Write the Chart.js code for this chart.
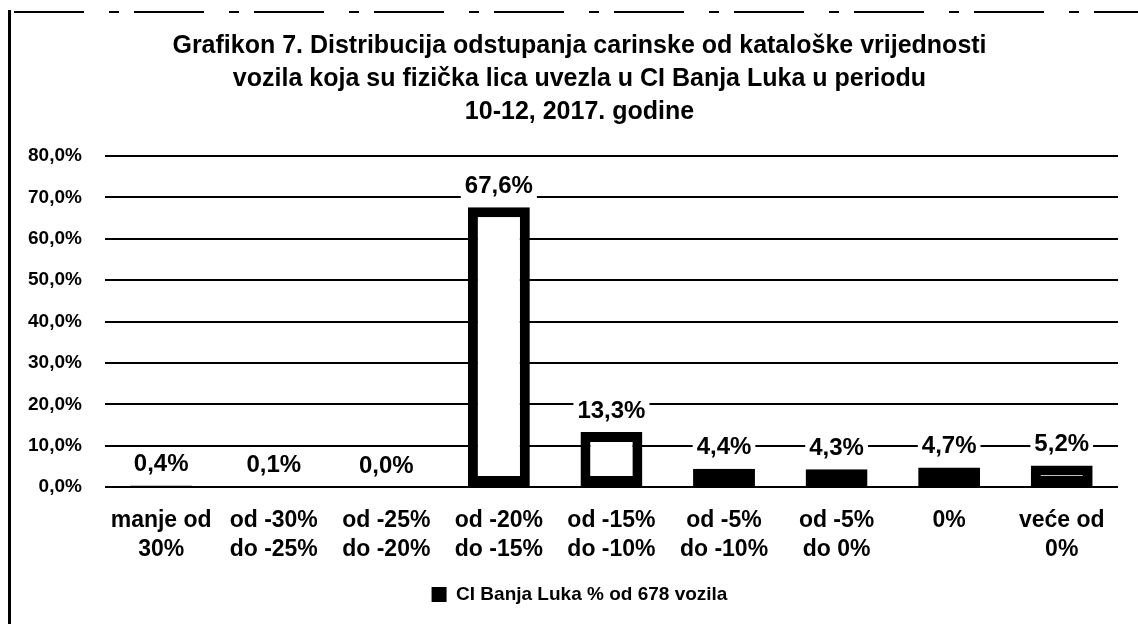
<!DOCTYPE html>
<html>
<head>
<meta charset="utf-8">
<script src="https://cdn.jsdelivr.net/npm/chart.js@4/dist/chart.umd.min.js"></script>
<style>
  html, body { margin: 0; padding: 0; background: #fff; }
  #wrap { position: relative; width: 1138px; height: 624px; overflow: hidden; background: #fff; }
  #frameLeft { position: absolute; left: 8px; top: 10px; width: 3px; height: 614px; background: #000; }
  #frameTop { position: absolute; left: 14px; top: 11px; width: 1124px; height: 2px;
    background: repeating-linear-gradient(to right, #000 0 70px, transparent 70px 95px, #000 95px 105px, transparent 105px 120px); }
  canvas { position: absolute; left: 0; top: 0; }
</style>
</head>
<body>
<div id="wrap">
  <canvas id="c"></canvas>
  <div id="frameLeft"></div>
  <div id="frameTop"></div>
</div>
<script>
const titleLines = [
  "Grafikon 7. Distribucija odstupanja carinske od kataloške vrijednosti",
  "vozila koja su fizička lica uvezla u CI Banja Luka u periodu",
  "10-12, 2017. godine"
];
const categories = [
  ["manje od", "30%"],
  ["od -30%", "do -25%"],
  ["od -25%", "do -20%"],
  ["od -20%", "do -15%"],
  ["od -15%", "do -10%"],
  ["od -5%", "do -10%"],
  ["od -5%", "do 0%"],
  ["0%"],
  ["veće od", "0%"]
];
const values = [0.4, 0.1, 0.0, 67.6, 13.3, 4.4, 4.3, 4.7, 5.2];
const yTickValues = [0, 10, 20, 30, 40, 50, 60, 70, 80];
const yTickLabels = ["0,0%", "10,0%", "20,0%", "30,0%", "40,0%", "50,0%", "60,0%", "70,0%", "80,0%"];
const seriesLabel = "CI Banja Luka % od 678 vozila";

const FONT = "'Liberation Sans', Arial, sans-serif";

function fmtPct(v) { return v.toFixed(1).replace('.', ',') + '%'; }

const valueLabels = {
  id: 'valueLabels',
  afterDatasetsDraw(chart) {
    const ctx = chart.ctx;
    const meta = chart.getDatasetMeta(0);
    ctx.save();
    ctx.font = "bold 24px " + FONT;
    ctx.textAlign = 'center';
    ctx.textBaseline = 'middle';
    meta.data.forEach((bar, i) => {
      const txt = fmtPct(values[i]);
      const x = bar.x;
      const y = bar.y - 22;
      const w = ctx.measureText(txt).width + 8;
      ctx.fillStyle = '#fff';
      ctx.fillRect(x - w / 2, y - 13, w, 26);
      ctx.fillStyle = '#000';
      ctx.fillText(txt, x, y + 1);
    });
    ctx.restore();
  }
};

// shift the title and legend blocks so they are centred where they sit in the original
const blockShift = {
  id: 'blockShift',
  afterLayout(chart) {
    if (chart.titleBlock) { chart.titleBlock.left += 36; }
    if (chart.legend) { chart.legend.left += 36; chart.legend.right += 0; }
  }
};

const canvas = document.getElementById('c');
canvas.width = 1138; canvas.height = 624;
canvas.style.width = '1138px'; canvas.style.height = '624px';

new Chart(canvas, {
  type: 'bar',
  data: {
    labels: categories,
    datasets: [{
      label: seriesLabel,
      data: values,
      backgroundColor: '#fff',
      borderColor: '#000',
      borderWidth: 10,
      borderSkipped: false,
      categoryPercentage: 1.0,
      barPercentage: 0.55
    }]
  },
  options: {
    responsive: false,
    animation: false,
    devicePixelRatio: 1,
    layout: { padding: { left: 5, right: 20, top: 0, bottom: 10 } },
    plugins: {
      title: {
        display: true,
        text: titleLines,
        color: '#000',
        font: { family: FONT, size: 25, weight: 'bold', lineHeight: 1.32 },
        padding: { top: 30, bottom: 27 }
      },
      legend: {
        display: true,
        position: 'bottom',
        labels: {
          color: '#000',
          boxWidth: 15,
          boxHeight: 15,
          font: { family: FONT, size: 19, weight: 'bold' },
          generateLabels: () => [{ text: seriesLabel, fillStyle: '#000', strokeStyle: '#000', lineWidth: 0, datasetIndex: 0, fontColor: '#000' }]
        }
      },
      tooltip: { enabled: false }
    },
    scales: {
      x: {
        grid: { display: false },
        border: { display: false },
        ticks: {
          color: '#000',
          font: { family: FONT, size: 23, weight: 'bold', lineHeight: 1.26 },
          padding: 11,
          maxRotation: 0,
          autoSkip: false
        }
      },
      y: {
        min: 0,
        max: 80,
        border: { display: false },
        grid: { color: '#000', lineWidth: 2, drawTicks: false },
        afterBuildTicks: (axis) => { axis.ticks = yTickValues.map(v => ({ value: v })); },
        ticks: {
          color: '#000',
          padding: 23,
          font: { family: FONT, size: 19, weight: 'bold' },
          callback: (v, i) => yTickLabels[i]
        }
      }
    }
  },
  plugins: [valueLabels, blockShift]
});
</script>
</body>
</html>
